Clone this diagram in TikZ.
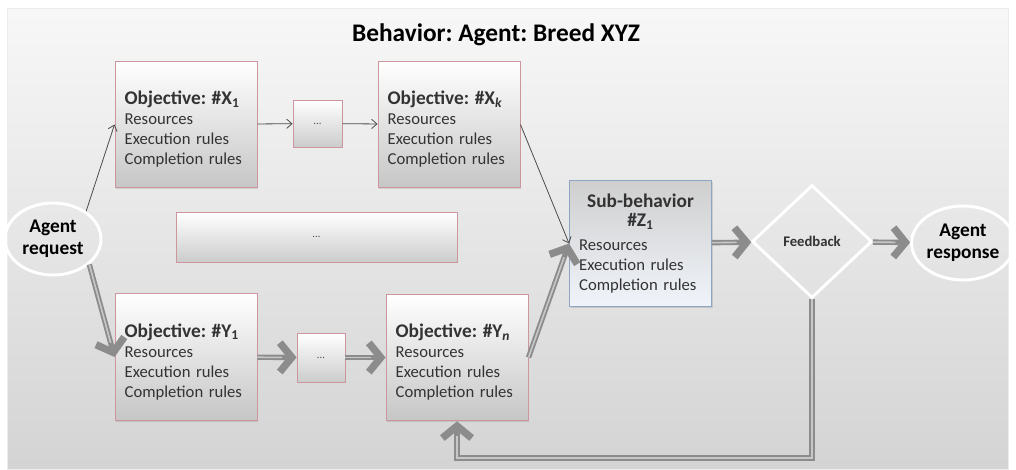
\documentclass[tikz,border=0pt]{standalone}
\usepackage{fontspec}
\setmainfont{Carlito}
\frenchspacing
\usetikzlibrary{shapes,arrows.meta,shadows}
\definecolor{boxline}{RGB}{205,150,158}
\definecolor{subline}{RGB}{140,165,195}
\definecolor{subfill}{RGB}{240,244,250}

\begin{document}
\begin{tikzpicture}[x=0.75pt,y=-0.75pt]
\tikzstyle{panel}=[top color=gray!6, bottom color=gray!34, draw=gray!15]
\tikzstyle{objective}=[
	rectangle,
	draw=boxline, line width=0.7pt,
	top color=white, bottom color=gray!45,
	drop shadow={opacity=0.25, shadow xshift=1pt, shadow yshift=-1pt},
	minimum width=106.5pt, minimum height=95pt,
	text width=92pt, inner xsep=7.25pt, align=left,
	font=\fontsize{12.5}{15}\selectfont, text=black!80 ]
\tikzstyle{dots}=[
	rectangle,
	draw=boxline, line width=0.7pt,
	top color=white, bottom color=gray!40,
	drop shadow={opacity=0.25, shadow xshift=1pt, shadow yshift=-1pt},
	font=\fontsize{8}{8}\selectfont, text=black!70 ]
\tikzstyle{subbox}=[objective, draw=subline, top color=gray!38, bottom color=subfill]
\tikzstyle{agent}=[
	ellipse, draw=white, line width=2.2pt, inner sep=0pt, align=center,
	font=\fontsize{14.5}{16.5}\selectfont\bfseries ]
\tikzstyle{check}=[
	diamond, draw=white, line width=2.2pt, inner sep=0pt,
	minimum width=90pt, minimum height=84.75pt,
	font=\fontsize{11}{13}\selectfont\bfseries, text=black!80 ]
\tikzstyle{thin}=[draw=black!70, line width=0.6pt, -{Straight Barb[length=4pt,width=7pt]}]
\tikzstyle{flow}=[
	draw=black!45, line width=4pt,
	-{Straight Barb[length=9pt,width=22pt,line width=1.5pt 1]},
	postaction={draw=black!22, line width=1.2pt, -, shorten >=11pt} ]
\newcommand{\objhead}[1]{{\fontsize{14.5}{15}\selectfont\bfseries\rule{0pt}{17pt}Objective: \##1}}

\useasboundingbox (0,0) rectangle (1016,469);
\fill[white] (0,0) rectangle (1016,469);
\draw[panel] (7,8) rectangle (1008,469);

\node[font=\fontsize{19}{22}\selectfont\bfseries] (title) at (496,35) {Behavior: Agent: Breed XYZ};

\node[agent, minimum width=72pt, minimum height=54pt] (req) at (53,239) {Agent\\request};
\node[objective] (x1) at (186,124.5) {\objhead{X\textsubscript{1}}\\Resources\\Execution rules\\Completion rules};
\node[dots, minimum width=36.75pt, minimum height=35.25pt] (dx) at (317.5,123.5) {...};
\node[objective] (xk) at (449,124.5) {\objhead{X\textsubscript{\textit{k}}}\\Resources\\Execution rules\\Completion rules};
\node[dots, minimum width=210.75pt, minimum height=37.5pt] (dm) at (316.5,237) {...};
\node[objective] (y1) at (186,357) {\objhead{Y\textsubscript{1}}\\Resources\\Execution rules\\Completion rules};
\node[dots, minimum width=36pt, minimum height=36.75pt] (dy) at (321,357.5) {...};
\node[objective] (yn) at (457,357.5) {\objhead{Y\textsubscript{\textit{n}}}\\Resources\\Execution rules\\Completion rules};
\node[subbox] (sub) at (640.5,243.5) {{\centering\fontsize{14.5}{14.5}\selectfont\bfseries Sub-behavior\\\#Z\textsubscript{1}\par}\vspace{3pt}\noindent Resources\\Execution rules\\Completion rules};
\node[check] (fb) at (812,241.5) {Feedback};
\node[agent, minimum width=76.5pt, minimum height=55.5pt] (resp) at (963,243) {Agent\\response};
\coordinate (low) at (0,458);

\draw[thin] (req.40) -- (x1.west);
\draw[thin] (x1) -- (dx);
\draw[thin] (dx) -- (xk);
\draw[thin] (xk.east) -- (sub.west);
\draw[flow] (req.-35) -- (y1.west);
\draw[flow] (y1) -- (dy);
\draw[flow] (dy) -- (yn);
\draw[flow] (yn.east) -- (sub.west);
\draw[flow] (sub) -- (fb);
\draw[flow] (fb) -- (resp);
\draw[flow] (fb.south) -- (fb.south |- low) -| (yn.south);
\end{tikzpicture}
\end{document}
